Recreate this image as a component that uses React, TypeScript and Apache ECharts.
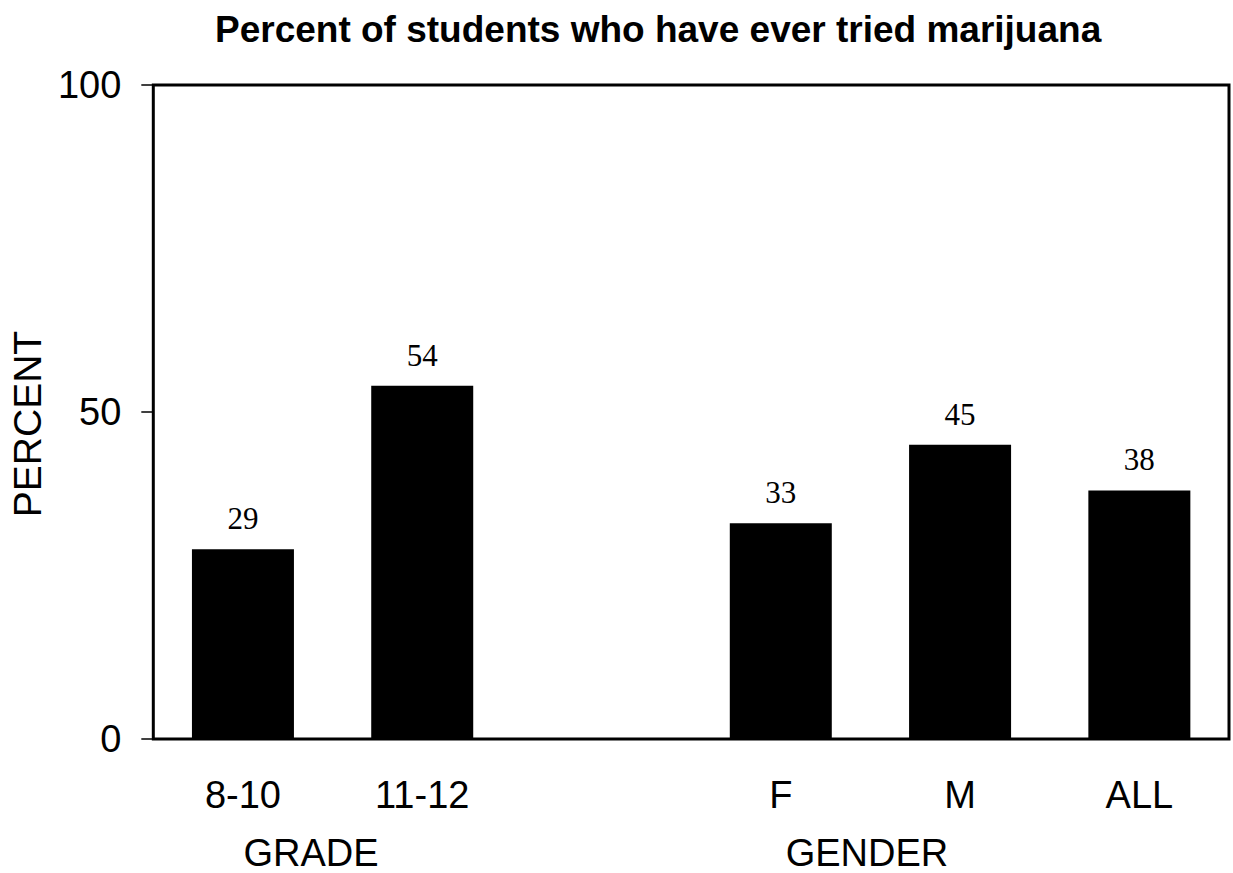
import React, { useEffect, useRef } from "react";
import * as echarts from "echarts";

const categories = ["8-10", "11-12", "", "F", "M", "ALL"];
const percentValues: (number | string)[] = [29, 54, "-", 33, 45, 38];
const yTicks = [0, 50, 100];
const groupLabels = ["GRADE", "GENDER"];
const titleText = "Percent of students who have ever tried marijuana";
const yName = "PERCENT";

const SANS = '"Liberation Sans", Arial, Helvetica, sans-serif';
const SERIF = '"Liberation Serif", "Times New Roman", serif';

export default function App() {
  const ref = useRef<HTMLDivElement>(null);

  useEffect(() => {
    if (!ref.current) return;
    const chart = echarts.init(ref.current, undefined, { renderer: "svg" });
    const option: any = {
      animation: false,
      backgroundColor: "#ffffff",
      title: {
        text: titleText,
        left: 210,
        top: 6,
        textStyle: {
          fontFamily: SANS,
          fontSize: 37,
          fontWeight: "bold",
          color: "#000",
        },
      },
      grid: {
        left: 149,
        top: 85,
        width: 1080,
        height: 654,
        show: true,
        borderColor: "#000",
        borderWidth: 3,
        backgroundColor: "transparent",
      },
      xAxis: {
        type: "category",
        data: categories,
        boundaryGap: true,
        axisLine: { show: false },
        axisTick: { show: false },
        splitLine: { show: false },
        axisLabel: {
          interval: 0,
          margin: 37,
          fontFamily: SANS,
          fontSize: 38,
          color: "#000",
        },
      },
      yAxis: {
        type: "value",
        min: yTicks[0],
        max: yTicks[yTicks.length - 1],
        interval: yTicks[1] - yTicks[0],
        name: yName,
        nameLocation: "middle",
        nameGap: 101,
        nameTextStyle: {
          fontFamily: SANS,
          fontSize: 39,
          color: "#000",
          padding: [0, 24, 0, 0],
        },
        axisLine: { show: false },
        splitLine: { show: false },
        axisTick: {
          show: true,
          inside: false,
          length: 12,
          lineStyle: { color: "#000", width: 1.5 },
        },
        axisLabel: {
          margin: 32,
          fontFamily: SANS,
          fontSize: 38,
          color: "#000",
        },
      },
      series: [
        {
          type: "bar",
          data: percentValues,
          barWidth: 102,
          itemStyle: { color: "#000" },
          label: {
            show: true,
            position: "top",
            distance: 15,
            fontFamily: SERIF,
            fontSize: 31,
            color: "#000",
          },
        },
      ],
      graphic: [
        {
          type: "text",
          x: 311,
          y: 853,
          style: {
            text: groupLabels[0],
            font: `38px ${SANS}`,
            fill: "#000",
            textAlign: "center",
            textVerticalAlign: "middle",
          },
        },
        {
          type: "text",
          x: 867,
          y: 853,
          style: {
            text: groupLabels[1],
            font: `38px ${SANS}`,
            fill: "#000",
            textAlign: "center",
            textVerticalAlign: "middle",
          },
        },
      ],
    };
    chart.setOption(option);
    return () => {
      chart.dispose();
    };
  }, []);

  return (
    <div
      ref={ref}
      style={{ position: "fixed", left: 0, top: 0, width: 1233, height: 873 }}
    />
  );
}
